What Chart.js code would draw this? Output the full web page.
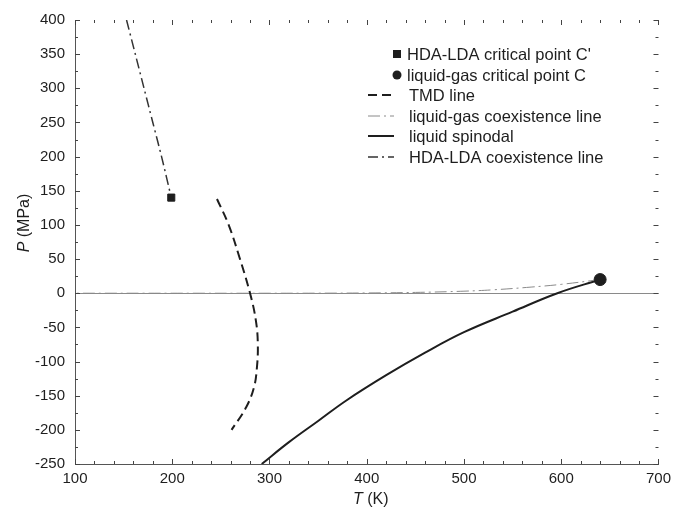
<!DOCTYPE html>
<html>
<head>
<meta charset="utf-8">
<script src="https://cdn.jsdelivr.net/npm/chart.js@4/dist/chart.umd.min.js"></script>
<style>
html,body{margin:0;padding:0;background:#fff;}
#wrap{width:677px;height:513px;position:relative;}
</style>
</head>
<body>
<div id="wrap"><canvas id="c" width="677" height="513"></canvas></div>
<script>
// ---- data ----
const X_TICKS = [100, 200, 300, 400, 500, 600, 700];
const Y_TICKS = [400, 350, 300, 250, 200, 150, 100, 50, 0, -50, -100, -150, -200, -250];

const CP_HDA_LDA = [{x: 199, y: 140}];          // C'
const CP_LIQ_GAS = [{x: 640, y: 20}];           // C

const TMD_T = [246, 258, 269, 280, 286, 288, 287, 284, 276, 261];
const TMD_P = [138, 100, 53, 0, -40, -75, -110, -138, -167, -200];

const LGCOEX_T = [640, 600, 569, 530, 500, 450, 400, 350, 300, 200, 100];
const LGCOEX_P = [20, 13, 9, 5, 3, 1.2, 0.4, 0.1, 0, 0, 0];

const SPIN_T = [292, 320, 350, 379, 420, 460, 500, 550, 596, 640];
const SPIN_P = [-250, -218, -187, -157, -120, -87, -57, -27, 0, 20];

const HLCOEX_T = [153, 162, 171, 180, 189, 199];
const HLCOEX_P = [400, 350, 300, 250, 200, 140];

const LEGEND_LABELS = [
  "HDA-LDA critical point C'",
  "liquid-gas critical point C",
  "TMD line",
  "liquid-gas coexistence line",
  "liquid spinodal",
  "HDA-LDA coexistence line"
];

const pts = (xs, ys) => xs.map((x, i) => ({x, y: ys[i]}));
const INK = '#1e1e1e';
const FONT = '"Liberation Sans", Arial, Helvetica, sans-serif';

const datasets = [
  {label: LEGEND_LABELS[0], data: CP_HDA_LDA, pointStyle: 'rect', pointRadius: 5, backgroundColor: INK, borderColor: INK, showLine: false, kind: 'rect'},
  {label: LEGEND_LABELS[1], data: CP_LIQ_GAS, pointStyle: 'circle', pointRadius: 6, backgroundColor: INK, borderColor: INK, showLine: false, kind: 'circle'},
  {label: LEGEND_LABELS[2], data: pts(TMD_T, TMD_P), showLine: true, borderColor: INK, borderWidth: 2, borderDash: [9, 5], pointRadius: 0, tension: 0.4, kind: 'line'},
  {label: LEGEND_LABELS[3], data: pts(LGCOEX_T, LGCOEX_P), showLine: true, borderColor: '#8a8a8a', borderWidth: 1, borderDash: [12, 4, 2, 4], pointRadius: 0, tension: 0.4, kind: 'line'},
  {label: LEGEND_LABELS[4], data: pts(SPIN_T, SPIN_P), showLine: true, borderColor: INK, borderWidth: 2, pointRadius: 0, tension: 0.4, kind: 'line'},
  {label: LEGEND_LABELS[5], data: pts(HLCOEX_T, HLCOEX_P), showLine: true, borderColor: '#333', borderWidth: 1.5, borderDash: [10, 4, 2, 4], pointRadius: 0, tension: 0.3, kind: 'line'}
];

const decor = {
  id: 'decor',
  afterDraw(chart) {
    const {ctx, chartArea: a, scales: {x, y}} = chart;
    ctx.save();
    // inward ticks on all four sides
    ctx.strokeStyle = '#444';
    ctx.lineWidth = 1;
    for (let v = 100; v <= 700; v += 20) {
      const px = Math.round(x.getPixelForValue(v)) + 0.5;
      const len = (v % 100 === 0) ? 5 : 3;
      ctx.beginPath();
      ctx.moveTo(px, a.bottom); ctx.lineTo(px, a.bottom - len);
      ctx.moveTo(px, a.top); ctx.lineTo(px, a.top + len);
      ctx.stroke();
    }
    for (let v = -250; v <= 400; v += 25) {
      const py = Math.round(y.getPixelForValue(v)) + 0.5;
      const len = (v % 50 === 0) ? 5 : 3;
      ctx.beginPath();
      ctx.moveTo(a.left, py); ctx.lineTo(a.left + len, py);
      ctx.moveTo(a.right, py); ctx.lineTo(a.right - len, py);
      ctx.stroke();
    }
    // axis titles with italic symbols
    ctx.fillStyle = INK;
    ctx.textBaseline = 'middle';
    const drawMixed = (parts, cx, cy) => {
      let w = 0;
      parts.forEach(p => { ctx.font = p[1] + ' 16px ' + FONT; w += ctx.measureText(p[0]).width; });
      let sx = cx - w / 2;
      parts.forEach(p => { ctx.font = p[1] + ' 16px ' + FONT; ctx.textAlign = 'left'; ctx.fillText(p[0], sx, cy); sx += ctx.measureText(p[0]).width; });
    };
    drawMixed([['T', 'italic'], [' (K)', 'normal']], (a.left + a.right) / 2 + 4, 500);
    ctx.save();
    ctx.translate(25, 223);
    ctx.rotate(-Math.PI / 2);
    drawMixed([['P', 'italic'], [' (MPa)', 'normal']], 0, 0);
    ctx.restore();

    // legend
    const rowY = [54, 75, 95, 116, 136, 157];
    ctx.font = '16.5px ' + FONT;
    ctx.textAlign = 'left';
    chart.data.datasets.forEach((ds, i) => {
      const yy = rowY[i];
      ctx.fillStyle = INK;
      if (ds.kind === 'rect') {
        ctx.fillRect(393, yy - 4, 8, 8);
        ctx.fillText(ds.label, 407, yy + 1);
      } else if (ds.kind === 'circle') {
        ctx.beginPath(); ctx.arc(397, yy, 4.5, 0, Math.PI * 2); ctx.fill();
        ctx.fillText(ds.label, 407, yy + 1);
      } else {
        ctx.strokeStyle = ds.borderColor;
        ctx.lineWidth = ds.borderWidth;
        ctx.setLineDash(ds.borderDash || []);
        ctx.beginPath(); ctx.moveTo(368, yy); ctx.lineTo(394, yy); ctx.stroke();
        ctx.setLineDash([]);
        ctx.fillText(ds.label, 409, yy + 1);
      }
    });
    ctx.restore();
  }
};

new Chart(document.getElementById('c'), {
  type: 'scatter',
  data: {datasets},
  options: {
    responsive: false,
    animation: false,
    layout: {padding: {top: 20, right: 16, left: 0, bottom: 0}},
    plugins: {legend: {display: false}, tooltip: {enabled: false}},
    scales: {
      x: {
        type: 'linear', min: 100, max: 700,
        afterBuildTicks: s => { s.ticks = X_TICKS.map(v => ({value: v})); },
        afterFit: s => { s.height = 49; },
        grid: {drawOnChartArea: false, drawTicks: false},
        border: {display: true, color: '#555', width: 1},
        ticks: {padding: 6, color: INK, font: {family: FONT, size: 15}, maxRotation: 0}
      },
      y: {
        type: 'linear', min: -250, max: 400,
        afterBuildTicks: s => { s.ticks = Y_TICKS.map(v => ({value: v})); },
        afterFit: s => { s.width = 75; },
        grid: {
          drawTicks: false,
          color: c => (c.tick && c.tick.value === 0) ? '#8a8a8a' : 'rgba(0,0,0,0)',
          lineWidth: 1
        },
        border: {display: true, color: '#555', width: 1},
        ticks: {padding: 10, color: INK, font: {family: FONT, size: 15}}
      }
    }
  },
  plugins: [decor]
});
</script>
</body>
</html>
